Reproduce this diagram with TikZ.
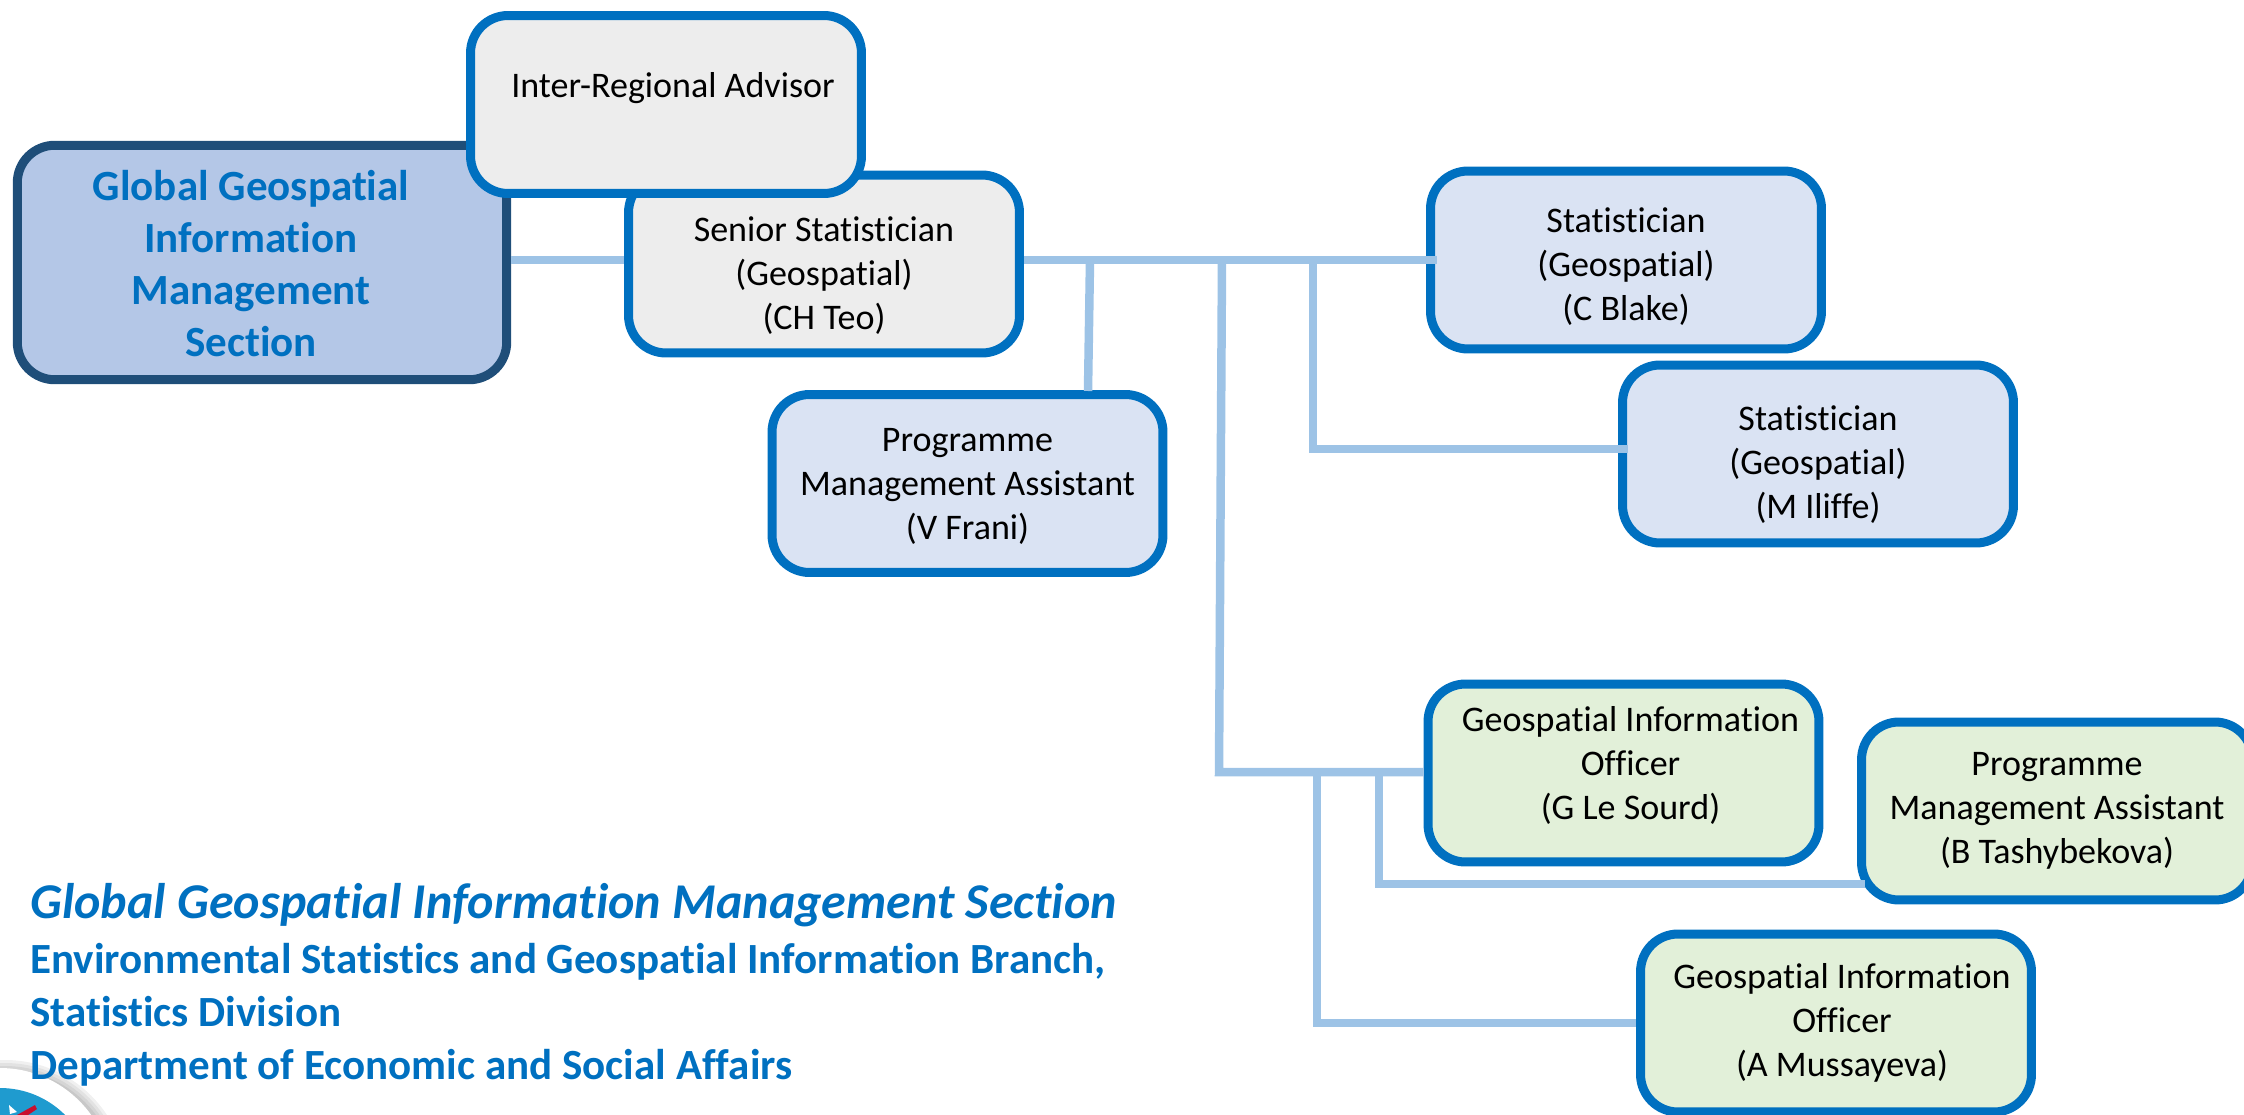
\documentclass[tikz,border=0pt]{standalone}
\usepackage{fontspec}
\setmainfont[Ligatures=NoCommon]{Carlito}
\definecolor{boxline}{HTML}{0070C0}
\definecolor{mainline}{HTML}{1F4E79}
\definecolor{mainfill}{HTML}{B4C7E7}
\definecolor{greyfill}{HTML}{EDEDED}
\definecolor{bluefill}{HTML}{DAE3F3}
\definecolor{greenfill}{HTML}{E2F0D9}
\definecolor{linkline}{HTML}{9DC3E6}
\definecolor{sealblue}{HTML}{1F9BCF}
\definecolor{sealred}{HTML}{C8102E}
% text block in a box: right shift (twice), room above, room below
\newcommand{\boxtext}[4]{\hspace*{#1}\begin{tabular}{@{}c@{}}\noalign{\vskip #2}#4\\[#3]\end{tabular}}
\tikzset{
  orgbox/.style={draw=boxline, line width=0.18cm, rounded corners=0.75cm,
    minimum width=7.82cm, minimum height=3.56cm, inner sep=0pt,
    font=\fontsize{20.5}{25}\selectfont},
  mainbox/.style={orgbox, draw=mainline, fill=mainfill, minimum width=9.79cm,
    minimum height=4.69cm, text=boxline,
    font=\fontsize{24.5}{29.6}\selectfont\bfseries},
  link/.style={draw=linkline, line width=0.17cm},
  caption/.style={anchor=base west, inner sep=0pt, text=boxline,
    font=\fontsize{24.5}{24.5}\selectfont\bfseries}
}
\begin{document}
\begin{tikzpicture}[x=0.02cm, y=-0.02cm]
  \useasboundingbox (0,0) rectangle (2244,1115);
  \clip (0,0) rectangle (2244,1115);
  % Boxes
  \node[mainbox] (section) at (262,262.5) {\boxtext{-0.44cm}{0.23cm}{0pt}{Global Geospatial\\Information\\Management\\Section}};
  \node[orgbox, fill=greyfill] (senior) at (824,264) {\boxtext{0pt}{0.52cm}{0pt}{Senior Statistician\\(Geospatial)\\(CH Teo)}};
  \node[orgbox, fill=greyfill] (advisor) at (666,104.5) {\boxtext{0.28cm}{0pt}{0.64cm}{Inter-Regional Advisor}};
  \node[orgbox, fill=bluefill] (assistv) at (967.5,483.5) {\boxtext{0pt}{0.12cm}{0pt}{Programme\\Management Assistant\\(V Frani)}};
  \node[orgbox, fill=bluefill] (statc) at (1626,260) {\boxtext{0pt}{0.30cm}{0pt}{Statistician\\(Geospatial)\\(C Blake)}};
  \node[orgbox, fill=bluefill] (statm) at (1818,454) {\boxtext{0pt}{0.48cm}{0pt}{Statistician\\(Geospatial)\\(M Iliffe)}};
  \node[orgbox, fill=greenfill] (officerg) at (1623.5,773) {\boxtext{0.28cm}{0pt}{0.24cm}{Geospatial Information\\Officer\\(G Le Sourd)}};
  \node[orgbox, fill=greenfill] (assistb) at (2057,811) {\boxtext{0pt}{0pt}{0pt}{Programme\\Management Assistant\\(B Tashybekova)}};
  \node[orgbox, fill=greenfill] (officera) at (1836,1023) {\boxtext{0.24cm}{0.04cm}{0pt}{Geospatial Information\\Officer\\(A Mussayeva)}};
  % Junctions on the connector lines
  \coordinate (topa) at (1090,260);
  \coordinate (topb) at (1222,260);
  \coordinate (topc) at (1313,260);
  \coordinate (lowa) at (1219,772);
  \coordinate (lowb) at (1317,772);
  \coordinate (lowc) at (1379,772);
  \coordinate (turnc) at (1313,449);
  \coordinate (turnb) at (1317,1023);
  \coordinate (turnd) at (1379,884);
  \coordinate (enda) at (1088,391);
  % Connectors
  \draw[link] (section.east |- topa) -- (senior.west |- topa);
  \draw[link] (senior.east |- topa) -- ([xshift=0.22cm]statc.west |- topa);
  \draw[link] (topa) -- (enda);
  \draw[link] (topb) -- (lowa) -- (officerg.west |- lowa);
  \draw[link] (topc) -- (turnc) -- ([xshift=0.2cm]statm.west |- turnc);
  \draw[link] (lowb) -- (turnb) -- (officera.west |- turnb);
  \draw[link] (lowc) -- (turnd) -- ([xshift=0.16cm]assistb.west |- turnd);
  % Seal in the corner
  \foreach \r in {122,119,116,113}
    \fill[black, opacity=0.06] (5,1182) circle (\r);
  \fill[white] (0,1180) circle (112);
  \fill[sealblue] (0,1180) circle (92);
  \fill[white] (9,1105) -- (17,1112) -- (10,1114) -- cycle;
  \fill[sealred] (17,1115) -- (35,1105) -- (37,1109) -- (28,1115) -- cycle;
  % Caption
  \node[caption, font=\fontsize{28.5}{28.5}\selectfont\bfseries\itshape] (title) at (30,918) {Global Geospatial Information Management Section};
  \node[caption] (branch) at (30,973) {Environmental Statistics and Geospatial Information Branch,};
  \node[caption] (division) at (30,1026) {Statistics Division};
  \node[caption] (dept) at (30,1079) {Department of Economic and Social Affairs};
\end{tikzpicture}
\end{document}
